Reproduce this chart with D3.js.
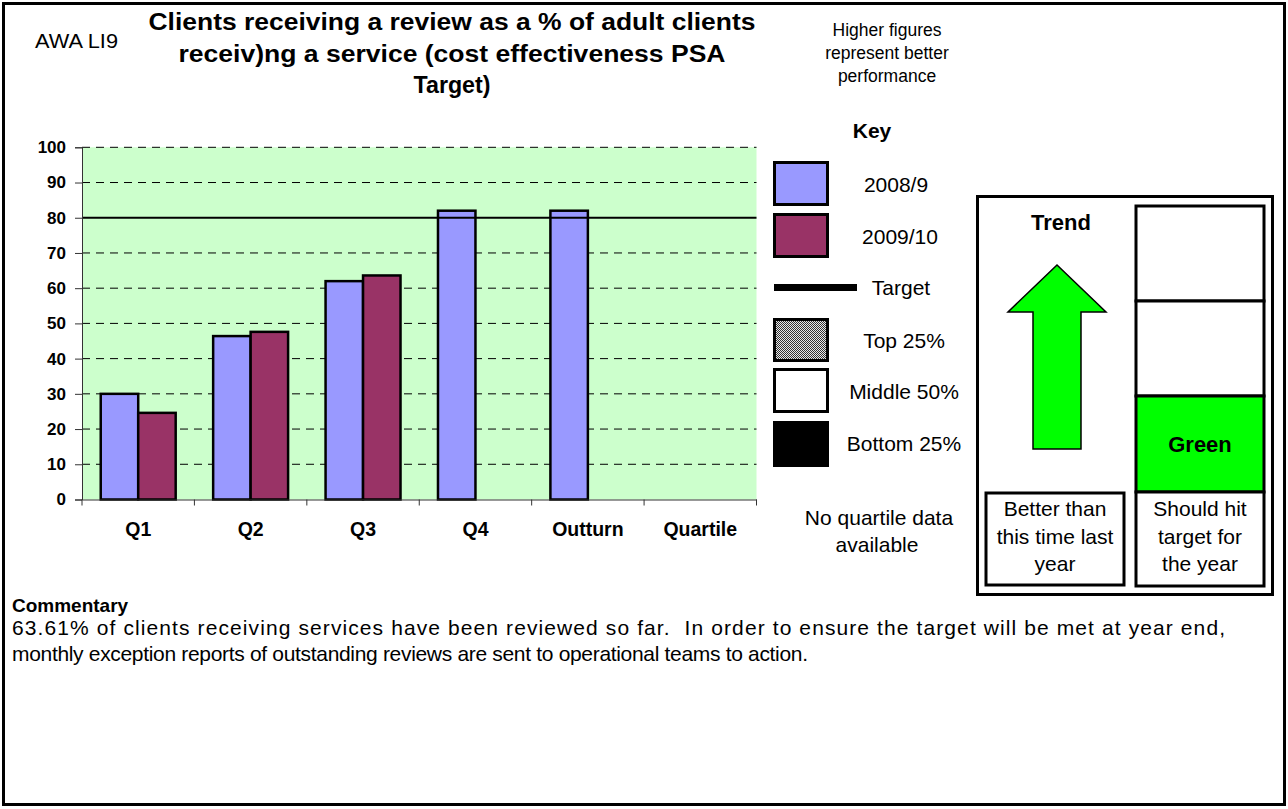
<!DOCTYPE html>
<html>
<head>
<meta charset="utf-8">
<script src="https://cdn.jsdelivr.net/npm/d3@7"></script>
<style>
  body { margin: 0; background: #fff; }
  svg { display: block; font-family: "Liberation Sans", Arial, sans-serif; }
</style>
</head>
<body>
<svg id="chart" width="1288" height="809"></svg>
<script>
// chart values
const categories = ["Q1", "Q2", "Q3", "Q4", "Outturn", "Quartile"];
const series2008 = [30, 46.4, 62, 82, 82, null];
const series2009 = [24.6, 47.6, 63.61, null, null, null];
const seriesNames = ["2008/9", "2009/10"];
const targetValue = 80;
const yTicks = [0, 10, 20, 30, 40, 50, 60, 70, 80, 90, 100];

const titleLines = [
    "Clients receiving a review as a % of adult clients",
    "receiv)ng a service (cost effectiveness PSA",
    "Target)"
];
const noteLines = ["Higher figures", "represent better", "performance"];
const commentaryLines = [
    "63.61% of clients receiving services have been reviewed so far.  In order to ensure the target will be met at year end,",
    "monthly exception reports of outstanding reviews are sent to operational teams to action."
];

const colors = ["#9999ff", "#993366"];
const plot = { left: 82, right: 756.5, top: 147.3, bottom: 499.5 };

const svg = d3.select("#chart");

// pattern for the top quartile swatch
const defs = svg.append("defs");
const pat = defs.append("pattern")
    .attr("id", "dots")
    .attr("width", 2).attr("height", 2)
    .attr("patternUnits", "userSpaceOnUse");
pat.append("rect").attr("width", 2).attr("height", 2).attr("fill", "#e8e8e8");
pat.append("rect").attr("width", 1).attr("height", 1).attr("fill", "#333");
pat.append("rect").attr("x", 1).attr("y", 1).attr("width", 1).attr("height", 1).attr("fill", "#333");

// page border
svg.append("rect")
    .attr("x", 3.5).attr("y", 3.5)
    .attr("width", 1281).attr("height", 801)
    .attr("fill", "#fff")
    .attr("stroke", "#000")
    .attr("stroke-width", 3);

function addText(x, y, str, size, opts = {}) {
    const t = svg.append("text")
        .attr("x", x).attr("y", y)
        .attr("font-size", size)
        .attr("font-weight", opts.bold ? "bold" : "normal")
        .attr("text-anchor", opts.anchor || "start")
        .attr("fill", "#000")
        .style("white-space", "pre")
        .text(str);
    if (opts.len) {
        t.attr("textLength", opts.len).attr("lengthAdjust", opts.adjust || "spacingAndGlyphs");
    }
    return t;
}

// header
addText(35, 48, "AWA LI9", 20, { len: 83 });
const titleLens = [607, 547, 77];
titleLines.forEach((line, i) => {
    addText(452, 30 + i * 31.5, line, 23, { bold: true, anchor: "middle", len: titleLens[i] });
});
noteLines.forEach((line, i) => {
    addText(887, 36 + i * 23, line, 17.5, { anchor: "middle" });
});

// scales
const x = d3.scaleBand()
    .domain(categories)
    .range([plot.left, plot.right]);

const xInner = d3.scaleBand()
    .domain(seriesNames)
    .range([x.bandwidth() / 6, x.bandwidth() * 5 / 6]);

const y = d3.scaleLinear()
    .domain([0, 100])
    .range([plot.bottom, plot.top]);

// plot area
svg.append("rect")
    .attr("x", plot.left).attr("y", y(100))
    .attr("width", plot.right - plot.left)
    .attr("height", y(0) - y(100))
    .attr("fill", "#ccffcc");

// dashed gridlines
svg.append("g")
    .selectAll("line")
    .data(yTicks.filter(d => d > 0 && d !== targetValue))
    .join("line")
    .attr("x1", plot.left).attr("x2", plot.right)
    .attr("y1", d => y(d)).attr("y2", d => y(d))
    .attr("stroke", "#000")
    .attr("stroke-width", 1)
    .attr("stroke-dasharray", "8,6");

// bars
const barData = [];
categories.forEach((c, i) => {
    [series2008[i], series2009[i]].forEach((v, s) => {
        if (v != null) barData.push({ cat: c, series: seriesNames[s], value: v, color: colors[s] });
    });
});

svg.append("g")
    .selectAll("rect")
    .data(barData)
    .join("rect")
    .attr("x", d => x(d.cat) + xInner(d.series))
    .attr("y", d => y(d.value))
    .attr("width", xInner.bandwidth())
    .attr("height", d => y(0) - y(d.value))
    .attr("fill", d => d.color)
    .attr("stroke", "#000")
    .attr("stroke-width", 2.5);

// target line
svg.append("line")
    .attr("x1", plot.left).attr("x2", plot.right)
    .attr("y1", y(targetValue)).attr("y2", y(targetValue))
    .attr("stroke", "#000")
    .attr("stroke-width", 2);

// y axis
const yAxis = svg.append("g")
    .attr("transform", `translate(${plot.left},0)`)
    .call(d3.axisLeft(y).tickValues(yTicks).tickSize(7).tickPadding(9));
yAxis.selectAll("text")
    .attr("font-size", 17)
    .attr("font-weight", "bold")
    .attr("font-family", "Liberation Sans, Arial, sans-serif")
    .attr("fill", "#000");
yAxis.selectAll("line, path").attr("stroke", "#333");

// x axis
const xAxis = svg.append("g")
    .attr("transform", `translate(0,${plot.bottom})`)
    .call(d3.axisBottom(x).tickSize(0).tickPadding(23).tickSizeOuter(0));
xAxis.select(".domain").attr("stroke", "#333");
xAxis.selectAll("text")
    .attr("font-size", 19.5)
    .attr("font-weight", "bold")
    .attr("font-family", "Liberation Sans, Arial, sans-serif")
    .attr("fill", "#000");

// category boundary ticks
svg.append("g")
    .selectAll("line")
    .data(categories.concat(["end"]))
    .join("line")
    .attr("x1", (d, i) => plot.left + i * x.bandwidth())
    .attr("x2", (d, i) => plot.left + i * x.bandwidth())
    .attr("y1", plot.bottom).attr("y2", plot.bottom + 6)
    .attr("stroke", "#333");

// key
addText(872, 138, "Key", 21, { bold: true, anchor: "middle" });

const keyItems = [
    { label: "2008/9", fill: colors[0], y: 161, h: 45, tx: 896, ty: 192 },
    { label: "2009/10", fill: colors[1], y: 213, h: 45, tx: 900, ty: 244 },
    { label: "Top 25%", fill: "url(#dots)", y: 318, h: 44, tx: 904, ty: 348 },
    { label: "Middle 50%", fill: "#fff", y: 368, h: 45, tx: 904, ty: 399 },
    { label: "Bottom 25%", fill: "#000", y: 421, h: 46, tx: 904, ty: 451 }
];
keyItems.forEach(k => {
    svg.append("rect")
        .attr("x", 774.5).attr("y", k.y + 1.5)
        .attr("width", 53).attr("height", k.h - 3)
        .attr("fill", k.fill)
        .attr("stroke", "#000")
        .attr("stroke-width", 3);
    addText(k.tx, k.ty, k.label, 21, { anchor: "middle" });
});
svg.append("line")
    .attr("x1", 774).attr("x2", 857)
    .attr("y1", 287.5).attr("y2", 287.5)
    .attr("stroke", "#000")
    .attr("stroke-width", 7);
addText(901, 295, "Target", 21, { anchor: "middle" });

addText(879, 525, "No quartile data", 21, { anchor: "middle" });
addText(877, 552, "available", 21, { anchor: "middle" });

// trend panel
svg.append("rect")
    .attr("x", 977.5).attr("y", 196.5)
    .attr("width", 295).attr("height", 398)
    .attr("fill", "#fff").attr("stroke", "#000").attr("stroke-width", 3);

addText(1061, 230, "Trend", 22, { bold: true, anchor: "middle" });

const arrow = [[1057, 265], [1106, 312], [1081, 312], [1081, 449], [1033, 449], [1033, 312], [1008, 312]];
svg.append("path")
    .attr("d", d3.line()(arrow) + "Z")
    .attr("fill", "#00ff00")
    .attr("stroke", "#000")
    .attr("stroke-width", 1.5);

svg.append("rect")
    .attr("x", 986).attr("y", 493)
    .attr("width", 138).attr("height", 92)
    .attr("fill", "#fff").attr("stroke", "#000").attr("stroke-width", 3);
["Better than", "this time last", "year"].forEach((line, i) => {
    addText(1055, 516 + i * 27.5, line, 21, { anchor: "middle" });
});

const cells = [
    { y0: 206, y1: 301, fill: "#fff" },
    { y0: 301, y1: 396, fill: "#fff" },
    { y0: 396, y1: 492, fill: "#00ff00" },
    { y0: 492, y1: 586, fill: "#fff" }
];
cells.forEach(c => {
    svg.append("rect")
        .attr("x", 1136).attr("y", c.y0)
        .attr("width", 128).attr("height", c.y1 - c.y0)
        .attr("fill", c.fill).attr("stroke", "#000").attr("stroke-width", 3);
});
addText(1200, 452, "Green", 22, { bold: true, anchor: "middle" });
["Should hit", "target for", "the year"].forEach((line, i) => {
    addText(1200, 516 + i * 27.5, line, 21, { anchor: "middle" });
});

// commentary
addText(12, 612, "Commentary", 19, { bold: true });
const commentLens = [1213, 796];
commentaryLines.forEach((line, i) => {
    addText(12, 635 + i * 26, line, 21, { len: commentLens[i], adjust: "spacing" });
});
</script>
</body>
</html>
